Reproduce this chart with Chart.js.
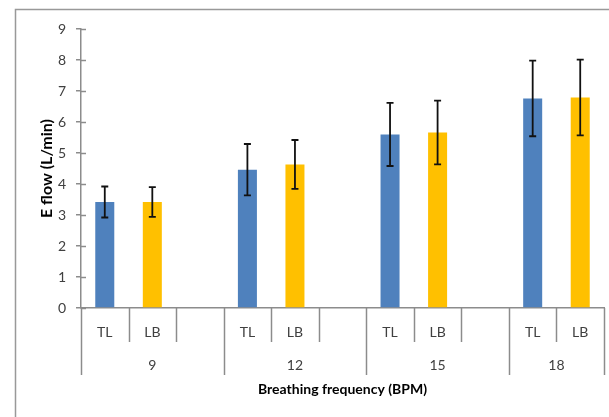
<!DOCTYPE html>
<html>
<head>
<meta charset="utf-8">
<script src="https://cdn.jsdelivr.net/npm/chart.js@4.4.0/dist/chart.umd.min.js"></script>
<style>
  html, body { margin: 0; padding: 0; background: #fff; }
  canvas { display: block; }
</style>
</head>
<body>
<canvas id="flowChart" width="609" height="417"></canvas>
<script>
// datos
const groups = ['9', '12', '15', '18'];
const seriesNames = ['TL', 'LB'];
const seriesColors = ['#4F81BD', '#FFC000'];
const tlMeans = [3.42, 4.46, 5.60, 6.76];
const tlErrors = [0.50, 0.83, 1.02, 1.22];
const lbMeans = [3.42, 4.63, 5.66, 6.79];
const lbErrors = [0.48, 0.79, 1.03, 1.22];
const yTicks = [0, 1, 2, 3, 4, 5, 6, 7, 8, 9];

// armar las ranuras del eje (TL, LB, vacio) por grupo
let slotLabels = [];
let slotValues = [];
let slotErrors = [];
let slotColors = [];
let slotGroup = [];
groups.forEach((g, gi) => {
    const means = [tlMeans[gi], lbMeans[gi]];
    const errs = [tlErrors[gi], lbErrors[gi]];
    seriesNames.forEach((s, si) => {
        slotLabels.push(s);
        slotValues.push(means[si]);
        slotErrors.push(errs[si]);
        slotColors.push(seriesColors[si]);
        slotGroup.push(gi);
    });
    if (gi < groups.length - 1) {
        slotLabels.push('');
        slotValues.push(null);
        slotErrors.push(null);
        slotColors.push('rgba(0,0,0,0)');
        slotGroup.push(gi);
    }
});

const axisGray = '#8c8c8c';
const textGray = '#404040';

const excelAxis = {
    id: 'excelAxis',
    beforeDraw(chart) {
        const ctx = chart.ctx;
        ctx.save();
        ctx.strokeStyle = '#999';
        ctx.lineWidth = 1.5;
        ctx.strokeRect(15.5, 9.5, 800, 600);
        ctx.restore();
    },
    afterDatasetsDraw(chart) {
        const ctx = chart.ctx;
        const meta = chart.getDatasetMeta(0);
        const y = chart.scales.y;
        ctx.save();
        // barras de error
        ctx.strokeStyle = '#111';
        ctx.lineWidth = 1.8;
        meta.data.forEach((bar, i) => {
            if (slotValues[i] == null) return;
            const top = y.getPixelForValue(slotValues[i] + slotErrors[i]);
            const bot = y.getPixelForValue(slotValues[i] - slotErrors[i]);
            ctx.beginPath();
            ctx.moveTo(bar.x, top);
            ctx.lineTo(bar.x, bot);
            ctx.moveTo(bar.x - 3.5, top);
            ctx.lineTo(bar.x + 3.5, top);
            ctx.moveTo(bar.x - 3.5, bot);
            ctx.lineTo(bar.x + 3.5, bot);
            ctx.stroke();
        });
        // marcas del eje y hacia dentro
        ctx.strokeStyle = axisGray;
        ctx.lineWidth = 1.5;
        yTicks.forEach(t => {
            const py = Math.round(y.getPixelForValue(t)) + 0.5;
            ctx.beginPath();
            ctx.moveTo(y.right, py);
            ctx.lineTo(y.right + 5, py);
            ctx.stroke();
        });
        ctx.restore();
    },
    afterDraw(chart) {
        const ctx = chart.ctx;
        const x = chart.scales.x;
        const base = chart.chartArea.bottom;
        const slotW = x.width / slotLabels.length;
        ctx.save();
        ctx.strokeStyle = axisGray;
        ctx.lineWidth = 1.5;
        ctx.fillStyle = textGray;
        ctx.font = '14px Lato';
        ctx.textAlign = 'center';
        ctx.textBaseline = 'middle';
        for (let i = 0; i <= slotLabels.length; i++) {
            const px = Math.round(x.left + i * slotW) + 0.5;
            const isGroupEdge = i === 0 || i === slotLabels.length || slotGroup[i] !== slotGroup[i - 1];
            ctx.beginPath();
            ctx.moveTo(px, base);
            ctx.lineTo(px, base + (isGroupEdge ? 67 : 34));
            ctx.stroke();
        }
        slotLabels.forEach((lab, i) => {
            if (lab) ctx.fillText(lab, x.getPixelForValue(i), base + 24);
        });
        groups.forEach((g, gi) => {
            const idx = slotGroup.map((v, i) => v === gi ? i : -1).filter(i => i >= 0);
            const x0 = x.left + idx[0] * slotW;
            const x1 = x.left + (idx[idx.length - 1] + 1) * slotW;
            ctx.fillText(g, (x0 + x1) / 2, base + 57);
        });
        ctx.restore();
    }
};

Chart.defaults.font.family = 'Lato';
Chart.defaults.color = textGray;

new Chart(document.getElementById('flowChart'), {
    type: 'bar',
    data: {
        labels: slotLabels,
        datasets: [{
            label: 'E flow',
            data: slotValues,
            backgroundColor: slotColors,
            borderWidth: 0,
            categoryPercentage: 1.0,
            barPercentage: 0.4
        }]
    },
    options: {
        responsive: false,
        animation: false,
        devicePixelRatio: 1,
        layout: { padding: { left: 15, top: 29, right: 5, bottom: 0 } },
        plugins: {
            legend: { display: false },
            tooltip: { enabled: false }
        },
        scales: {
            x: {
                ticks: { display: false },
                grid: { display: false },
                border: { display: true, color: axisGray, width: 1.5 },
                title: {
                    display: true,
                    text: 'Breathing frequency (BPM)',
                    color: '#000',
                    font: { size: 14, weight: 'bold' },
                    padding: { top: 0, bottom: 19 }
                },
                afterFit: s => { s.height = 109; }
            },
            y: {
                min: 0,
                max: 9,
                afterBuildTicks: s => { s.ticks = yTicks.map(v => ({ value: v })); },
                ticks: { padding: 10, font: { size: 14 }, color: textGray },
                grid: { drawOnChartArea: false, drawTicks: true, tickLength: 5, color: axisGray, lineWidth: 1.5 },
                border: { color: axisGray, width: 1.5 },
                title: {
                    display: true,
                    text: 'E flow (L/min)',
                    color: '#000',
                    font: { size: 16, weight: 'bold' },
                    padding: { top: 22, bottom: 0 }
                },
                afterFit: s => { s.width = 66; }
            }
        }
    },
    plugins: [excelAxis]
});
</script>
</body>
</html>
